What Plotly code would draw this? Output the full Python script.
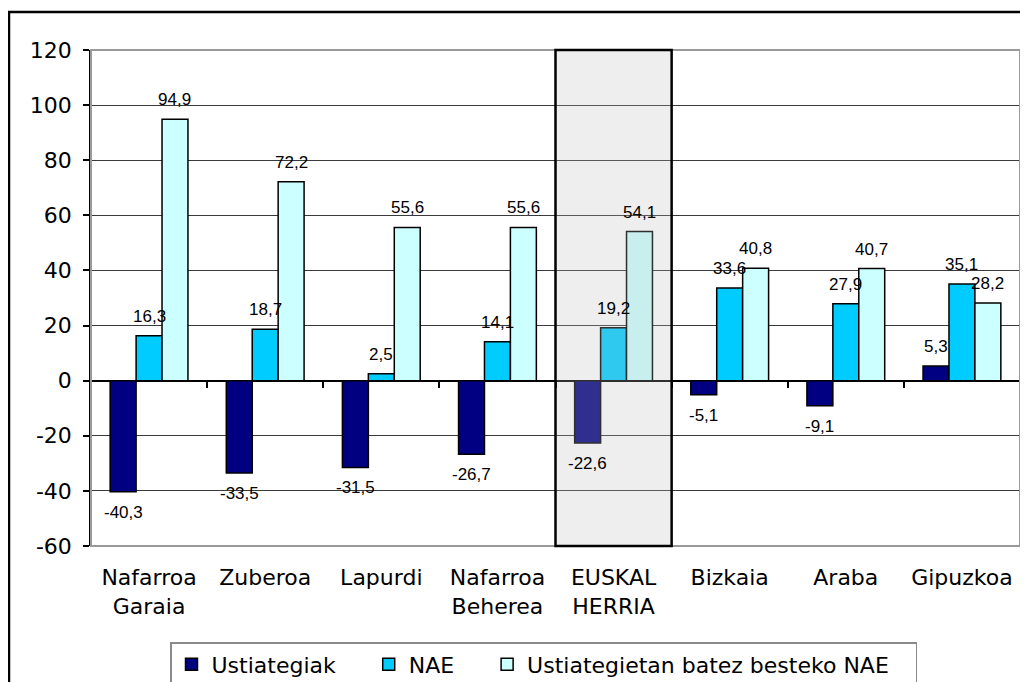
import plotly.graph_objects as go

categories = ["Nafarroa<br>Garaia", "Zuberoa", "Lapurdi", "Nafarroa<br>Beherea",
              "EUSKAL<br>HERRIA", "Bizkaia", "Araba", "Gipuzkoa"]
series_names = ["Ustiategiak", "NAE", "Ustiategietan batez besteko NAE"]
ustiategiak = [-40.3, -33.5, -31.5, -26.7, -22.6, -5.1, -9.1, 5.3]
nae = [16.3, 18.7, 2.5, 14.1, 19.2, 33.6, 27.9, 35.1]
batez_besteko = [94.9, 72.2, 55.6, 55.6, 54.1, 40.8, 40.7, 28.2]
y_ticks = [-60, -40, -20, 0, 20, 40, 60, 80, 100, 120]
y_ticktext = ["-60", "-40", "-20", "0", "20", "40", "60", "80", "100", "120"]
highlight = "EUSKAL<br>HERRIA"

colors = ["#000080", "#00CCFF", "#CCFFFF"]
series = [ustiategiak, nae, batez_besteko]
legend_pad = [4, 4, 3]  # trailing spacing after legend names

# page is drawn inside the default 8px body margin
OFF = 8
W, H = 1028 - OFF, 682 - OFF
# plot area in page pixels
PL, PR, PT, PB = 91, 1020, 50, 546
ML, MR, MT, MB = PL - OFF, W - (PR - OFF), PT - OFF, H - (PB - OFF)
PW = PR - PL
PH = PB - PT
BARGAP = 0.33

def px_x(px):
    return (px - PL) / PW

def px_y(py):
    return 1 - (py - PT) / PH

fig = go.Figure()
for name, vals, col, pad in zip(series_names, series, colors, legend_pad):
    fig.add_trace(go.Bar(
        x=categories, y=vals, name=name + "\u00a0" * pad,
        marker=dict(color=col, line=dict(color="black", width=1.5)),
        hoverinfo="skip",
    ))

# helper invisible trace for the axis crossing at zero
fig.add_trace(go.Scatter(x=categories, y=[None] * len(categories), xaxis="x2",
                         showlegend=False, hoverinfo="skip", mode="markers"))

# data labels
cat_px = PW / len(categories)
bar_px = cat_px * (1 - BARGAP) / 3
annotations = []
for i, vals in enumerate(series):
    for c, v in zip(categories, vals):
        label = ("%.1f" % v).replace(".", ",")
        annotations.append(dict(
            x=c, y=v, text=label, showarrow=False,
            xshift=(i - 1) * bar_px,
            yshift=8 if v >= 0 else -9,
            yanchor="bottom" if v >= 0 else "top",
            font=dict(family="Liberation Sans, Arial", size=17, color="black"),
        ))

hi = categories.index(highlight)
shapes = [
    # plot-area frame
    dict(type="rect", xref="x domain", yref="y domain", x0=0, x1=1, y0=0, y1=1,
         line=dict(color="#9a9a9a", width=2), layer="above"),
    # highlighted category box
    dict(type="rect", xref="x", yref="y domain", x0=hi - 0.5, x1=hi + 0.5, y0=0, y1=1,
         fillcolor="rgba(187,187,187,0.25)", line=dict(color="black", width=2.5),
         layer="above"),
    # outer chart border
    dict(type="rect", xref="paper", yref="paper",
         x0=px_x(9), x1=px_x(1040), y0=px_y(700), y1=px_y(12),
         line=dict(color="black", width=2.5), layer="above"),
]

fig.update_layout(
    width=W, height=H,
    margin=dict(l=ML, r=MR, t=MT, b=MB, autoexpand=False),
    paper_bgcolor="white", plot_bgcolor="white",
    barmode="group", bargap=BARGAP, bargroupgap=0,
    font=dict(family="DejaVu Sans, Verdana", size=22, color="black"),
    xaxis=dict(
        categoryorder="array", categoryarray=categories,
        showgrid=False, showline=False, zeroline=False, ticks="",
        ticklabelstandoff=16, automargin=False,
        tickfont=dict(family="DejaVu Sans, Verdana", size=22, color="black"),
    ),
    xaxis2=dict(
        overlaying="x", matches="x", anchor="free",
        position=(0 - y_ticks[0]) / (y_ticks[-1] - y_ticks[0]),
        showgrid=False, showline=False, zeroline=False, showticklabels=False,
        ticks="outside", tickson="boundaries", ticklen=6, tickwidth=1.5,
        tickcolor="black", automargin=False,
    ),
    yaxis=dict(
        range=[y_ticks[0], y_ticks[-1]], tickvals=y_ticks, ticktext=y_ticktext,
        showgrid=True, gridcolor="#3a3a3a", gridwidth=1,
        zeroline=True, zerolinecolor="black", zerolinewidth=1.5,
        showline=True, linecolor="black", linewidth=1.5,
        ticks="outside", ticklen=6, tickwidth=1.5, tickcolor="black",
        ticklabelstandoff=7, automargin=False,
        tickfont=dict(family="DejaVu Sans, Verdana", size=22, color="black"),
    ),
    legend=dict(
        orientation="h", x=px_x(170), xanchor="left", y=px_y(642), yanchor="top",
        bordercolor="#8a8a8a", borderwidth=1.5, bgcolor="white",
        font=dict(family="DejaVu Sans, Verdana", size=22, color="black"),
        itemwidth=30, traceorder="normal",
    ),
    annotations=annotations,
    shapes=shapes,
)

fig.write_html("out.html")
